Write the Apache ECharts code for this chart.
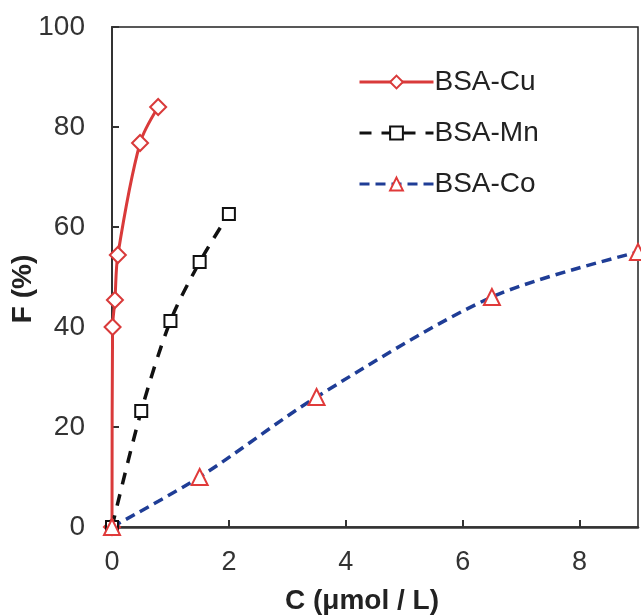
<!DOCTYPE html>
<html><head><meta charset="utf-8">
<script src="https://cdn.jsdelivr.net/npm/echarts@6/dist/echarts.min.js"></script>
<style>html,body{margin:0;padding:0;background:#fff}#c{width:641px;height:616px}</style>
</head><body><div id="c"></div>
<script>
const cuX = [0, 0.01, 0.05, 0.1, 0.48, 0.79];
const cuY = [0, 40, 45.4, 54.4, 76.8, 84];
const mnX = [0, 0.5, 1.0, 1.5, 2.0];
const mnY = [0, 23.2, 41.2, 53, 62.6];
const coX = [0, 1.5, 3.5, 6.5, 9];
const coY = [0, 10, 26, 46, 55];
const xTicks = [0, 2, 4, 6, 8];
const yTicks = [0, 20, 40, 60, 80, 100];

const pair = (xs, ys) => xs.map((x, i) => [x, ys[i]]);
const font = 'Liberation Sans, Arial, sans-serif';
const chart = echarts.init(document.getElementById('c'));
chart.setOption({
  animation: false,
  grid: { left: 112, right: 3, top: 27, bottom: 89, show: true, borderColor: '#222', borderWidth: 1.5,
    containLabel: false, outerBoundsMode: 'none' },
  legend: {
    orient: 'vertical', left: 353, top: 63, itemWidth: 74, itemHeight: 16, itemGap: 23,
    lineStyle: { width: 3 },
    textStyle: { fontSize: 28, fontFamily: font, color: '#222', padding: [0, 0, 0, -4] },
    data: ['BSA-Cu', 'BSA-Mn', 'BSA-Co']
  },
  xAxis: {
    type: 'value', min: 0, max: 9, interval: 2,
    name: 'C (μmol / L)', nameLocation: 'middle', nameGap: 60, nameMoveOverlap: false,
    nameTextStyle: { fontSize: 28, fontWeight: 'bold', fontFamily: font, color: '#222', padding: [0, 26, 0, 0] },
    axisLine: { show: true, lineStyle: { color: '#333', width: 2.5 } },
    axisTick: { show: true, inside: true, length: 7, lineStyle: { color: '#333', width: 2 } },
    axisLabel: { fontSize: 27, fontFamily: font, color: '#333', margin: 22, showMaxLabel: false,
      formatter: v => xTicks.includes(v) ? String(v) : '' },
    splitLine: { show: false }
  },
  yAxis: {
    type: 'value', min: 0, max: 100, interval: 20,
    name: 'F (%)', nameLocation: 'middle', nameGap: 75, nameRotate: 90, nameMoveOverlap: false,
    nameTextStyle: { fontSize: 28, fontWeight: 'bold', fontFamily: font, color: '#222', padding: [0, 24, 0, 0] },
    axisLine: { show: true, lineStyle: { color: '#333', width: 2 } },
    axisTick: { show: true, inside: true, length: 7, lineStyle: { color: '#333', width: 2 } },
    axisLabel: { fontSize: 28, fontFamily: font, color: '#333', margin: 27,
      formatter: v => yTicks.includes(v) ? String(v) : '' },
    splitLine: { show: false }
  },
  series: [
    { name: 'BSA-Cu', type: 'line', smooth: 0.3, data: pair(cuX, cuY),
      symbol: 'diamond', symbolSize: 16, showAllSymbol: true,
      lineStyle: { color: '#d93a3a', width: 3 },
      itemStyle: { color: '#fff', borderColor: '#d93a3a', borderWidth: 2 } },
    { name: 'BSA-Mn', type: 'line', smooth: 0.3, data: pair(mnX, mnY),
      symbol: 'rect', symbolSize: 12,
      lineStyle: { color: '#111', width: 3.5, type: [12, 10] },
      itemStyle: { color: '#fff', borderColor: '#111', borderWidth: 2 } },
    { name: 'BSA-Co', type: 'line', smooth: 0.3, data: pair(coX, coY),
      symbol: 'triangle', symbolSize: 16,
      lineStyle: { color: '#1f3d96', width: 3.5, type: [10, 6] },
      itemStyle: { color: '#fff', borderColor: '#e03a3a', borderWidth: 2 } }
  ]
});
</script></body></html>
